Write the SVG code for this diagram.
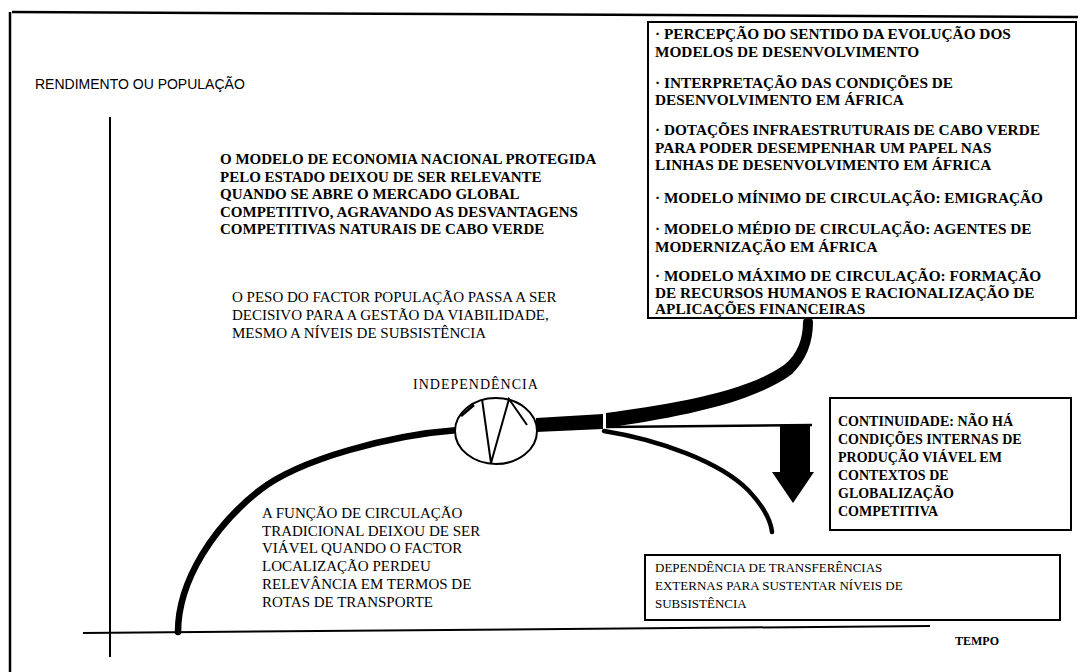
<svg xmlns="http://www.w3.org/2000/svg" width="1080" height="672" viewBox="0 0 1080 672">
<style>
.bg{fill:#ffffff}
.ln{stroke:#000;fill:none}
.box{fill:#fff;stroke:#000;stroke-width:2}
.tb{font-family:"Liberation Serif","Times New Roman",serif;font-weight:bold;font-size:15px;fill:#000}
.tbx{font-family:"Liberation Serif","Times New Roman",serif;font-weight:bold;font-size:15.3px;fill:#000}
.tb14{font-family:"Liberation Serif","Times New Roman",serif;font-weight:bold;font-size:14px;fill:#000}
.tr{font-family:"Liberation Serif","Times New Roman",serif;font-size:15px;fill:#000}
.tr13{font-family:"Liberation Serif","Times New Roman",serif;font-size:13px;fill:#000}
.ts{font-family:"Liberation Sans",Arial,sans-serif;font-size:14px;fill:#000}
</style>
<rect class="bg" x="0" y="0" width="1080" height="672"/>

<g id="frame">
  <line class="ln" x1="10" y1="12" x2="10" y2="672" stroke-width="2.5"/>
  <line class="ln" x1="12" y1="12" x2="1078" y2="17" stroke-width="2.5"/>
</g>

<g id="axes">
  <line class="ln" x1="110" y1="117" x2="110" y2="657" stroke-width="2"/>
  <line class="ln" x1="83" y1="633" x2="930" y2="626" stroke-width="2"/>
  <text id="y-label" class="ts" x="35" y="89">RENDIMENTO OU POPULAÇÃO</text>
  <text id="x-label" class="tb" x="955" y="645" style="font-size:12px">TEMPO</text>
</g>

<g id="connectors">
  <path class="ln" d="M178,632 C178,580 215,525 260,490 C300,459 390,435 458,430" stroke-width="6.5" stroke-linecap="round"/>
  <polygon points="536,418 603,414 603,429 536,432" fill="#000"/>
  <path d="M606,413 C665,405 745,393 784,365 C798,354 803,338 803,322 A5,5 0 0 1 813,322 C813,343 806,360 792,374 C750,405 672,418 606,428 Z" fill="#000"/>
  <line class="ln" x1="606" y1="427" x2="812" y2="425" stroke-width="2.5"/>
  <polygon points="780,425 810,425 810,472 814,472 793,503 772,472 780,472" fill="#000"/>
  <path class="ln" d="M604,431 C660,440 720,462 748,490 C765,508 771,522 772,532" stroke-width="4.5" stroke-linecap="round"/>
</g>

<g id="node-independencia">
  <ellipse cx="496" cy="431" rx="41" ry="33" fill="#fff" stroke="#000" stroke-width="2"/>
  <polyline class="ln" points="482,399 491,463 509,399 527,425" stroke-width="2"/>
  <line class="ln" x1="461" y1="416" x2="474" y2="405" stroke-width="2.5"/>
  <text class="tr" x="413" y="389" style="font-size:14px;letter-spacing:1px">INDEPENDÊNCIA</text>
</g>

<g id="node-modelos">
  <rect class="box" x="648" y="22" width="428" height="296"/>
  <text class="tbx" x="655" y="39">· PERCEPÇÃO DO SENTIDO DA EVOLUÇÃO DOS</text>
  <text class="tbx" x="655" y="57">MODELOS DE DESENVOLVIMENTO</text>
  <text class="tbx" x="655" y="88">· INTERPRETAÇÃO DAS CONDIÇÕES  DE</text>
  <text class="tbx" x="655" y="105">DESENVOLVIMENTO EM ÁFRICA</text>
  <text class="tbx" x="655" y="135">· DOTAÇÕES  INFRAESTRUTURAIS DE CABO VERDE</text>
  <text class="tbx" x="655" y="153">PARA PODER DESEMPENHAR UM PAPEL NAS</text>
  <text class="tbx" x="655" y="170">LINHAS DE DESENVOLVIMENTO EM ÁFRICA</text>
  <text class="tbx" x="655" y="203">· MODELO MÍNIMO DE CIRCULAÇÃO: EMIGRAÇÃO</text>
  <text class="tbx" x="655" y="234">· MODELO MÉDIO DE CIRCULAÇÃO: AGENTES DE</text>
  <text class="tbx" x="655" y="252">MODERNIZAÇÃO EM ÁFRICA</text>
  <text class="tbx" x="655" y="281">· MODELO MÁXIMO DE CIRCULAÇÃO: FORMAÇÃO</text>
  <text class="tbx" x="655" y="298">DE RECURSOS HUMANOS E RACIONALIZAÇÃO DE</text>
  <text class="tbx" x="655" y="314">APLICAÇÕES  FINANCEIRAS</text>
</g>

<g id="node-economia">
  <text class="tb" x="220" y="164">O MODELO DE ECONOMIA NACIONAL PROTEGIDA</text>
  <text class="tb" x="220" y="182">PELO ESTADO DEIXOU DE SER RELEVANTE</text>
  <text class="tb" x="220" y="199">QUANDO SE ABRE O MERCADO GLOBAL</text>
  <text class="tb" x="220" y="217">COMPETITIVO, AGRAVANDO AS DESVANTAGENS</text>
  <text class="tb" x="220" y="234">COMPETITIVAS NATURAIS DE CABO VERDE</text>
</g>

<g id="node-populacao">
  <text class="tr" x="232" y="302">O PESO DO FACTOR POPULAÇÃO PASSA A SER</text>
  <text class="tr" x="232" y="320">DECISIVO PARA A GESTÃO DA VIABILIDADE,</text>
  <text class="tr" x="232" y="338">MESMO A NÍVEIS DE SUBSISTÊNCIA</text>
</g>

<g id="node-circulacao">
  <text class="tr" x="262" y="518">A FUNÇÃO DE CIRCULAÇÃO</text>
  <text class="tr" x="262" y="536">TRADICIONAL DEIXOU DE SER</text>
  <text class="tr" x="262" y="553">VIÁVEL QUANDO O FACTOR</text>
  <text class="tr" x="262" y="571">LOCALIZAÇÃO PERDEU</text>
  <text class="tr" x="262" y="589">RELEVÂNCIA  EM TERMOS DE</text>
  <text class="tr" x="262" y="607">ROTAS DE TRANSPORTE</text>
</g>

<g id="node-continuidade">
  <rect class="box" x="830" y="398" width="241" height="132"/>
  <text class="tb14" x="838" y="426">CONTINUIDADE: NÃO HÁ</text>
  <text class="tb14" x="838" y="444">CONDIÇÕES INTERNAS DE</text>
  <text class="tb14" x="838" y="462">PRODUÇÃO VIÁVEL EM</text>
  <text class="tb14" x="838" y="480">CONTEXTOS  DE</text>
  <text class="tb14" x="838" y="498">GLOBALIZAÇÃO</text>
  <text class="tb14" x="838" y="516">COMPETITIVA</text>
</g>

<g id="node-dependencia">
  <rect class="box" x="645" y="555" width="415" height="65"/>
  <text class="tr13" x="655" y="572">DEPENDÊNCIA DE TRANSFERÊNCIAS</text>
  <text class="tr13" x="655" y="590">EXTERNAS PARA SUSTENTAR NÍVEIS DE</text>
  <text class="tr13" x="655" y="608">SUBSISTÊNCIA</text>
</g>
</svg>
